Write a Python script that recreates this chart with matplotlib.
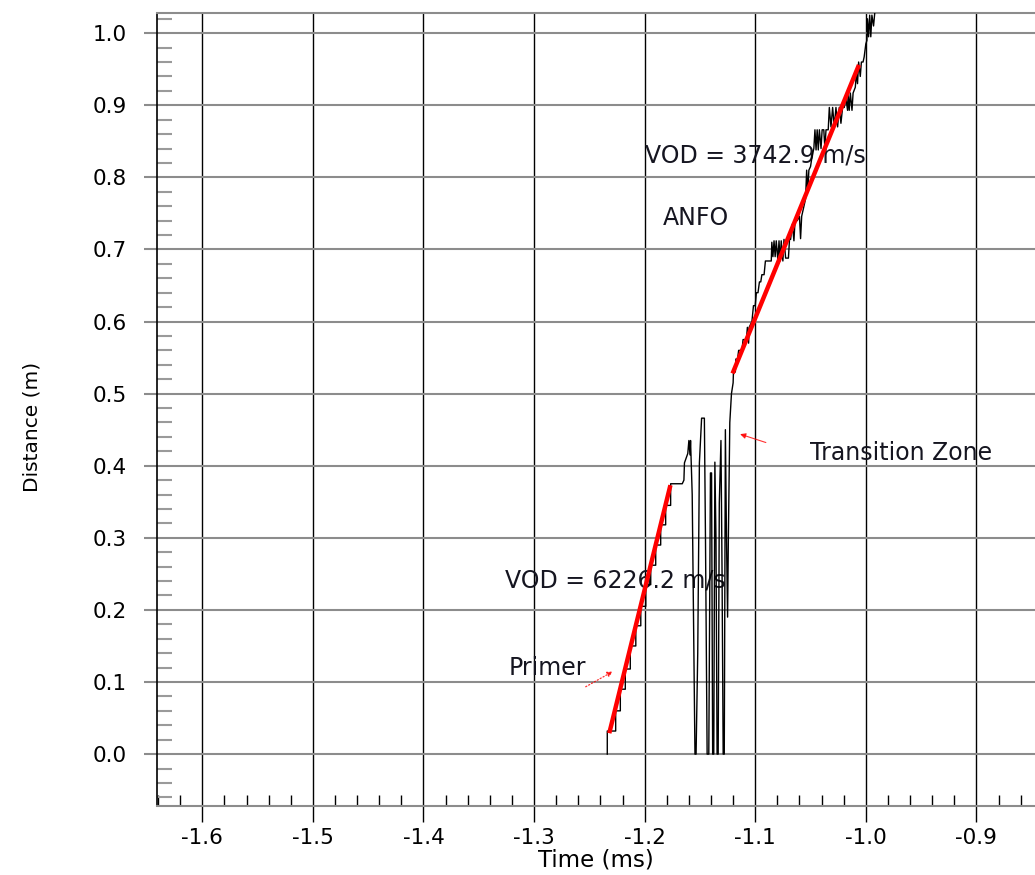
import matplotlib
matplotlib.use('Agg')
import matplotlib.pyplot as plt
from matplotlib.ticker import MultipleLocator, FormatStrFormatter

plt.rcParams['font.family'] = ['DejaVu Sans']
plt.rcParams['axes.unicode_minus'] = False

# primer part of the trace (staircase)
primer_t = [-1.2338, -1.2338, -1.2262, -1.2262, -1.2220, -1.2220, -1.2175, -1.2175,
            -1.2130, -1.2130, -1.2080, -1.2080, -1.2035, -1.2035, -1.1990, -1.1990,
            -1.1945, -1.1945, -1.1900, -1.1900, -1.1855, -1.1855, -1.1810, -1.1810,
            -1.1765, -1.1765, -1.1660]
primer_d = [0.000, 0.032, 0.032, 0.060, 0.060, 0.090, 0.090, 0.118,
            0.118, 0.150, 0.150, 0.178, 0.178, 0.205, 0.205, 0.235,
            0.235, 0.262, 0.262, 0.290, 0.290, 0.318, 0.318, 0.345,
            0.345, 0.375, 0.375]

# transition zone (noisy)
trans_t = [-1.1645, -1.1640, -1.1610, -1.1600, -1.1590, -1.1585, -1.1570, -1.1555,
           -1.1545, -1.1535, -1.1520, -1.1505, -1.1485, -1.1460, -1.1450, -1.1435,
           -1.1420, -1.1405, -1.1395, -1.1385, -1.1375, -1.1365, -1.1355, -1.1345,
           -1.1335, -1.1325, -1.1310, -1.1300, -1.1290, -1.1280, -1.1270, -1.1260,
           -1.1250, -1.1243, -1.1230, -1.1215, -1.1200]
trans_d = [0.380, 0.404, 0.417, 0.435, 0.415, 0.435, 0.360, 0.140,
           0.000, 0.000, 0.140, 0.404, 0.466, 0.466, 0.300, 0.000,
           0.000, 0.390, 0.390, 0.000, 0.000, 0.405, 0.300, 0.000,
           0.000, 0.348, 0.435, 0.250, 0.000, 0.000, 0.450, 0.300,
           0.190, 0.300, 0.460, 0.500, 0.515]

# ANFO part of the trace
anfo_t = [-1.1197, -1.1180, -1.1175, -1.1160, -1.1150, -1.1120, -1.1110, -1.1080,
          -1.1071, -1.1060, -1.1055, -1.1030, -1.1016, -1.1000, -1.0990, -1.0975,
          -1.0962, -1.0950, -1.0940, -1.0920, -1.0908, -1.0855, -1.0850, -1.0840,
          -1.0830, -1.0820, -1.0810, -1.0795, -1.0785, -1.0775, -1.0765, -1.0750,
          -1.0740, -1.0725, -1.0700, -1.0690, -1.0680, -1.0665, -1.0650, -1.0640,
          -1.0620, -1.0600, -1.0590, -1.0580, -1.0560, -1.0545, -1.0535, -1.0525,
          -1.0515, -1.0500, -1.0485, -1.0470, -1.0460, -1.0450, -1.0440, -1.0430,
          -1.0420, -1.0405, -1.0395, -1.0380, -1.0370, -1.0360, -1.0340, -1.0330,
          -1.0315, -1.0300, -1.0285, -1.0270, -1.0255, -1.0240, -1.0225, -1.0210,
          -1.0195, -1.0180, -1.0165, -1.0160, -1.0150, -1.0140, -1.0125, -1.0115,
          -1.0095, -1.0085, -1.0075, -1.0065, -1.0050, -1.0040, -1.0025, -1.0015,
          -1.0000, -0.9990, -0.9985, -0.9975, -0.9965, -0.9955, -0.9945, -0.9930,
          -0.9915]
anfo_d = [0.530, 0.530, 0.548, 0.548, 0.560, 0.560, 0.575, 0.575,
          0.592, 0.570, 0.592, 0.600, 0.622, 0.622, 0.640, 0.640,
          0.655, 0.655, 0.665, 0.665, 0.684, 0.684, 0.710, 0.690,
          0.712, 0.690, 0.712, 0.684, 0.712, 0.684, 0.712, 0.684,
          0.714, 0.688, 0.688, 0.714, 0.714, 0.735, 0.712, 0.740,
          0.740, 0.746, 0.715, 0.746, 0.760, 0.770, 0.810, 0.780,
          0.810, 0.815, 0.830, 0.840, 0.866, 0.838, 0.866, 0.838,
          0.866, 0.840, 0.866, 0.866, 0.840, 0.866, 0.866, 0.897,
          0.870, 0.897, 0.870, 0.897, 0.870, 0.897, 0.875, 0.897,
          0.897, 0.910, 0.893, 0.917, 0.893, 0.917, 0.893, 0.917,
          0.925, 0.945, 0.930, 0.960, 0.940, 0.960, 0.960, 0.967,
          0.985, 0.990, 1.020, 0.995, 1.025, 0.995, 1.025, 1.010,
          1.035]

# linear fits (VOD)
primer_fit_t = [-1.2320, -1.1767]
primer_fit_d = [0.029, 0.373]
anfo_fit_t = [-1.1205, -1.0062]
anfo_fit_d = [0.528, 0.956]

trace_t = primer_t + trans_t + anfo_t
trace_d = primer_d + trans_d + anfo_d

fig = plt.figure(figsize=(10.35, 8.75), dpi=100)
ax = fig.add_axes([157/1035, 1-806/875, 1-157/1035, (806-13)/875])

ax.plot(trace_t, trace_d, color='black', lw=1.0, zorder=3)
ax.plot(primer_fit_t, primer_fit_d, color='red', lw=3.2, solid_capstyle='butt', zorder=4)
ax.plot(anfo_fit_t, anfo_fit_d, color='red', lw=3.2, solid_capstyle='butt', zorder=4)

ax.set_xlim(-1.641, -0.847)
ax.set_ylim(-0.072, 1.028)

ax.xaxis.set_major_locator(MultipleLocator(0.1))
ax.xaxis.set_minor_locator(MultipleLocator(0.02))
ax.yaxis.set_major_locator(MultipleLocator(0.1))
ax.yaxis.set_minor_locator(MultipleLocator(0.02))
ax.xaxis.set_major_formatter(FormatStrFormatter('%.1f'))
ax.yaxis.set_major_formatter(FormatStrFormatter('%.1f'))

ax.grid(True, axis='x', which='major', color='black', lw=1.0, zorder=1)
ax.grid(True, axis='y', which='major', color='#8c8c8c', lw=1.5, zorder=1)
ax.set_axisbelow(True)

ax.tick_params(axis='x', which='major', direction='out', length=11.5, width=1.0,
               color='black', labelsize=15.5, pad=4)
ax.tick_params(axis='x', which='minor', direction='in', length=8, width=1.0, color='black')
ax.tick_params(axis='y', which='major', direction='out', length=9.5, width=1.5,
               color='#8c8c8c', labelsize=15.5, pad=12)
ax.tick_params(axis='y', which='minor', direction='in', length=11, width=1.5, color='#9a9a9a')

ax.spines['right'].set_visible(False)
ax.spines['top'].set_color('#8c8c8c')
ax.spines['top'].set_linewidth(1.5)
ax.spines['bottom'].set_color('#8c8c8c')
ax.spines['bottom'].set_linewidth(1.5)
ax.spines['left'].set_color('black')
ax.spines['left'].set_linewidth(1.2)

ax.set_xlabel('Time (ms)', fontsize=16.5, labelpad=1)
ax.set_ylabel('Distance (m)', fontsize=14.5)
ax.yaxis.set_label_coords(-0.131, 0.478)

txt = dict(fontsize=17, color='#151520', va='center', ha='center', zorder=2)
ax.text(-1.1001, 0.831, 'VOD = 3742.9 m/s', **txt)
ax.text(-1.1532, 0.743, 'ANFO', **txt)
ax.text(-0.9677, 0.417, 'Transition Zone', **txt)
ax.text(-1.2265, 0.241, 'VOD = 6226.2 m/s', **txt)
ax.text(-1.2881, 0.119, 'Primer', **txt)

ax.annotate('', xy=(-1.2266, 0.1165), xytext=(-1.2555, 0.0915),
            arrowprops=dict(arrowstyle='-|>', color='red', lw=0.9, ls=':',
                            mutation_scale=8, alpha=0.8), zorder=5)
ax.annotate('', xy=(-1.1161, 0.445), xytext=(-1.0880, 0.431),
            arrowprops=dict(arrowstyle='-|>', color='red', lw=0.8,
                            mutation_scale=8, alpha=0.8), zorder=5)

fig.savefig('out.png', dpi=100)
